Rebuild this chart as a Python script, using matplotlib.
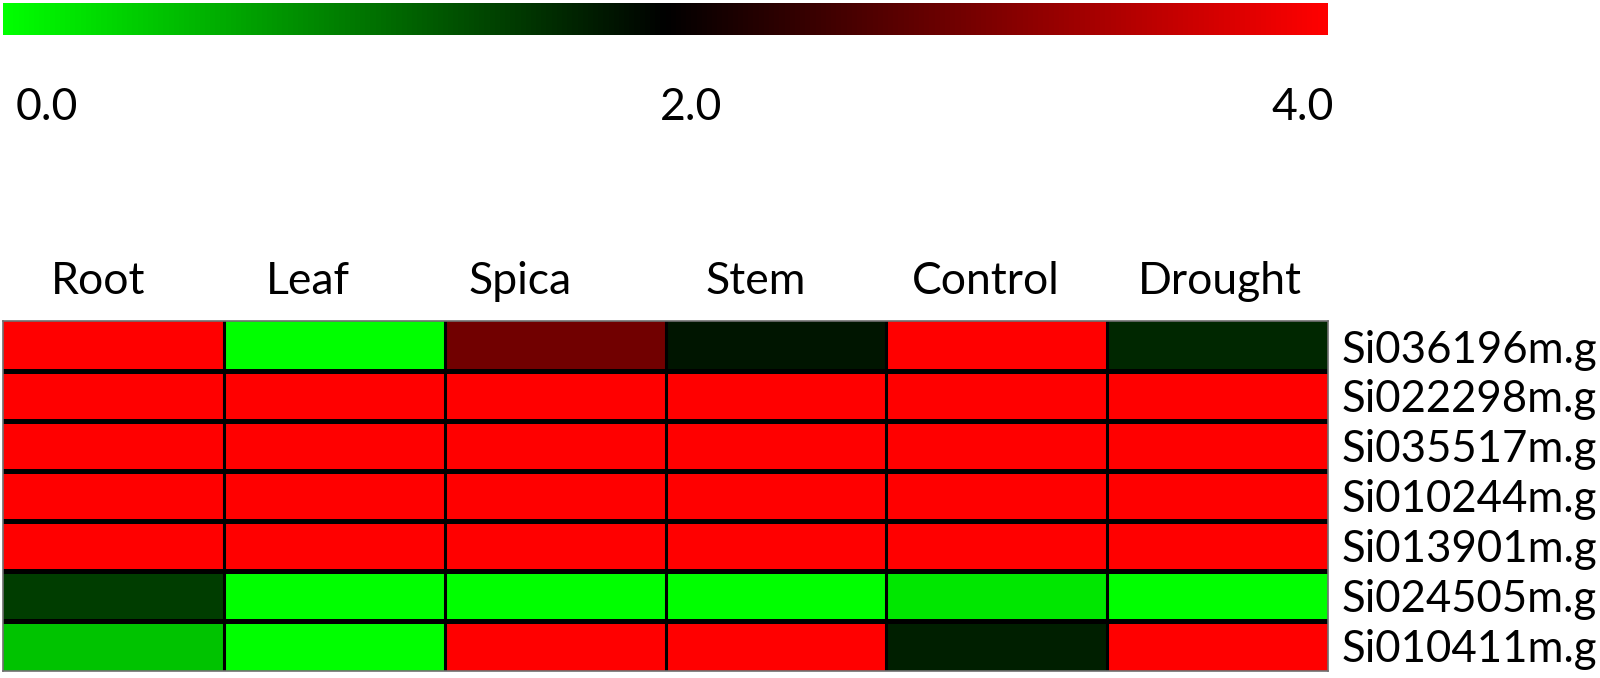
import numpy as np
import matplotlib
matplotlib.use("Agg")
import matplotlib.pyplot as plt
from matplotlib.colors import LinearSegmentedColormap, Normalize
import matplotlib as mpl

columns = ["Root", "Leaf", "Spica", "Stem", "Control", "Drought"]
genes = ["Si036196m.g", "Si022298m.g", "Si035517m.g", "Si010244m.g",
         "Si013901m.g", "Si024505m.g", "Si010411m.g"]
values = np.array([
    [4.0, 0.0, 2.88, 1.83, 4.0, 1.69],
    [4.0, 4.0, 4.0, 4.0, 4.0, 4.0],
    [4.0, 4.0, 4.0, 4.0, 4.0, 4.0],
    [4.0, 4.0, 4.0, 4.0, 4.0, 4.0],
    [4.0, 4.0, 4.0, 4.0, 4.0, 4.0],
    [1.53, 0.0, 0.0, 0.0, 0.2, 0.0],
    [0.47, 0.0, 4.0, 4.0, 1.76, 4.0],
])
scale_ticks = ["0.0", "2.0", "4.0"]
vmin, vmax = 0.0, 4.0

# layout (column label centres, in cell units, as placed in the original)
col_label_x = [0.43, 1.38, 2.34, 3.41, 4.45, 5.51]

W, H = 1600, 678
fig = plt.figure(figsize=(W / 100, H / 100), dpi=100)
font = ["Lato", "DejaVu Sans"]

cmap = LinearSegmentedColormap.from_list("gbr", [(0, 1, 0), (0, 0, 0), (1, 0, 0)])
norm = Normalize(vmin=vmin, vmax=vmax)

# heatmap
L, R, T, B = 3, 1328, 321, 671
ax = fig.add_axes([L / W, 1 - B / H, (R - L) / W, (B - T) / H])
nr, nc = values.shape
ax.pcolormesh(values, cmap=cmap, norm=norm, edgecolors="none")
ax.set_xlim(0, nc)
ax.set_ylim(nr, 0)
for i in range(1, nr):
    ax.axhline(i, color="black", lw=3.6)
for j in range(1, nc):
    ax.axvline(j, color="black", lw=2.2)

ax.set_xticks(col_label_x)
ax.set_xticklabels(columns, family=font, fontsize=32)
ax.xaxis.tick_top()
ax.tick_params(axis="x", length=0, pad=14)
ax.set_yticks(np.arange(nr) + 0.5)
ax.set_yticklabels(genes, family=font, fontsize=31.5)
ax.yaxis.tick_right()
ax.tick_params(axis="y", length=0, pad=10)
for s in ax.spines.values():
    s.set_color("#707070")
    s.set_linewidth(1.2)

# colour scale bar
cax = fig.add_axes([3 / W, 1 - 35 / H, 1325 / W, 32 / H])
cb = fig.colorbar(mpl.cm.ScalarMappable(norm=norm, cmap=cmap), cax=cax,
                  orientation="horizontal")
cb.set_ticks([])
cb.outline.set_visible(False)

ty = 1 - 108 / H
fig.text(16 / W, ty, scale_ticks[0], ha="left", va="center", family=font, fontsize=32)
fig.text(691 / W, ty, scale_ticks[1], ha="center", va="center", family=font, fontsize=32)
fig.text(1334 / W, ty, scale_ticks[2], ha="right", va="center", family=font, fontsize=32)

fig.savefig("out.png", dpi=100)
